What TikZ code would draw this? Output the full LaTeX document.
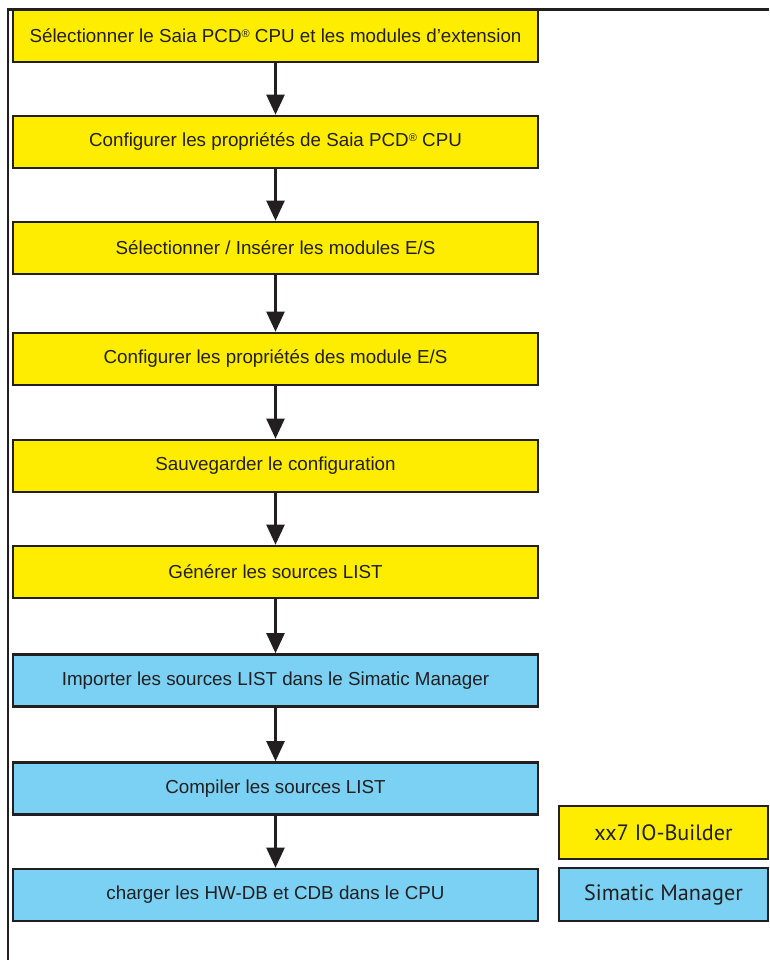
\documentclass[tikz,border=0pt]{standalone}
\usepackage{fontspec}
\setmainfont{Liberation Sans}
\newfontfamily\legendfont{PT Sans}
\usetikzlibrary{arrows.meta}
\definecolor{boxyellow}{HTML}{FFED00}
\definecolor{boxblue}{HTML}{7BD1F3}
\definecolor{inkline}{HTML}{231F20}
\newcommand{\regmark}{\raisebox{0.55ex}{\fontsize{11}{11}\selectfont ®}}
\tikzset{
  stepbox/.style={draw=inkline, line width=2.6pt, minimum width=525pt, minimum height=52pt,
    inner sep=0pt, font=\fontsize{18.8}{22}\selectfont, text=inkline},
  ybox/.style={stepbox, fill=boxyellow},
  bbox/.style={stepbox, fill=boxblue},
  legbox/.style={draw=inkline, line width=2.6pt, minimum width=209pt, minimum height=53pt,
    inner sep=0pt, font=\legendfont\fontsize{22.2}{26}\selectfont, text=inkline},
  flowarrow/.style={draw=inkline, line width=2.3pt, -{Triangle[length=20pt,width=18pt]}}
}
\begin{document}
\begin{tikzpicture}[x=1pt,y=-1pt]
\useasboundingbox (0,0) rectangle (769,960);
% frame
\draw[inkline, line width=2.3pt] (8,960) -- (8,9.5) -- (769,9.5);
% steps
\node[ybox] (s1) at (275.5,36) {Sélectionner le Saia PCD\regmark\ CPU et les modules d’extension};
\node[ybox] (s2) at (275.5,142) {Configurer les propriétés de Saia PCD\regmark\ CPU};
\node[ybox] (s3) at (275.5,248) {Sélectionner / Insérer les modules E/S};
\node[ybox] (s4) at (275.5,359) {Configurer les propriétés des module E/S};
\node[ybox] (s5) at (275.5,466) {Sauvegarder le configuration};
\node[ybox] (s6) at (275.5,572) {Générer les sources LIST};
\node[bbox] (s7) at (275.5,680.5) {Importer les sources LIST dans le Simatic Manager};
\node[bbox] (s8) at (275.5,788.5) {Compiler les sources LIST};
\node[bbox] (s9) at (275.5,895) {charger les HW-DB et CDB dans le CPU};
% arrows
\foreach \a/\b in {s1/s2,s2/s3,s3/s4,s4/s5,s5/s6,s6/s7,s7/s8,s8/s9}
  \draw[flowarrow] (\a.south) -- (\b.north);
% legend
\node[legbox, fill=boxyellow] (l1) at (663.5,832.5) {xx7 IO-Builder};
\node[legbox, fill=boxblue] (l2) at (663.5,894.5) {Simatic Manager};
\end{tikzpicture}
\end{document}
